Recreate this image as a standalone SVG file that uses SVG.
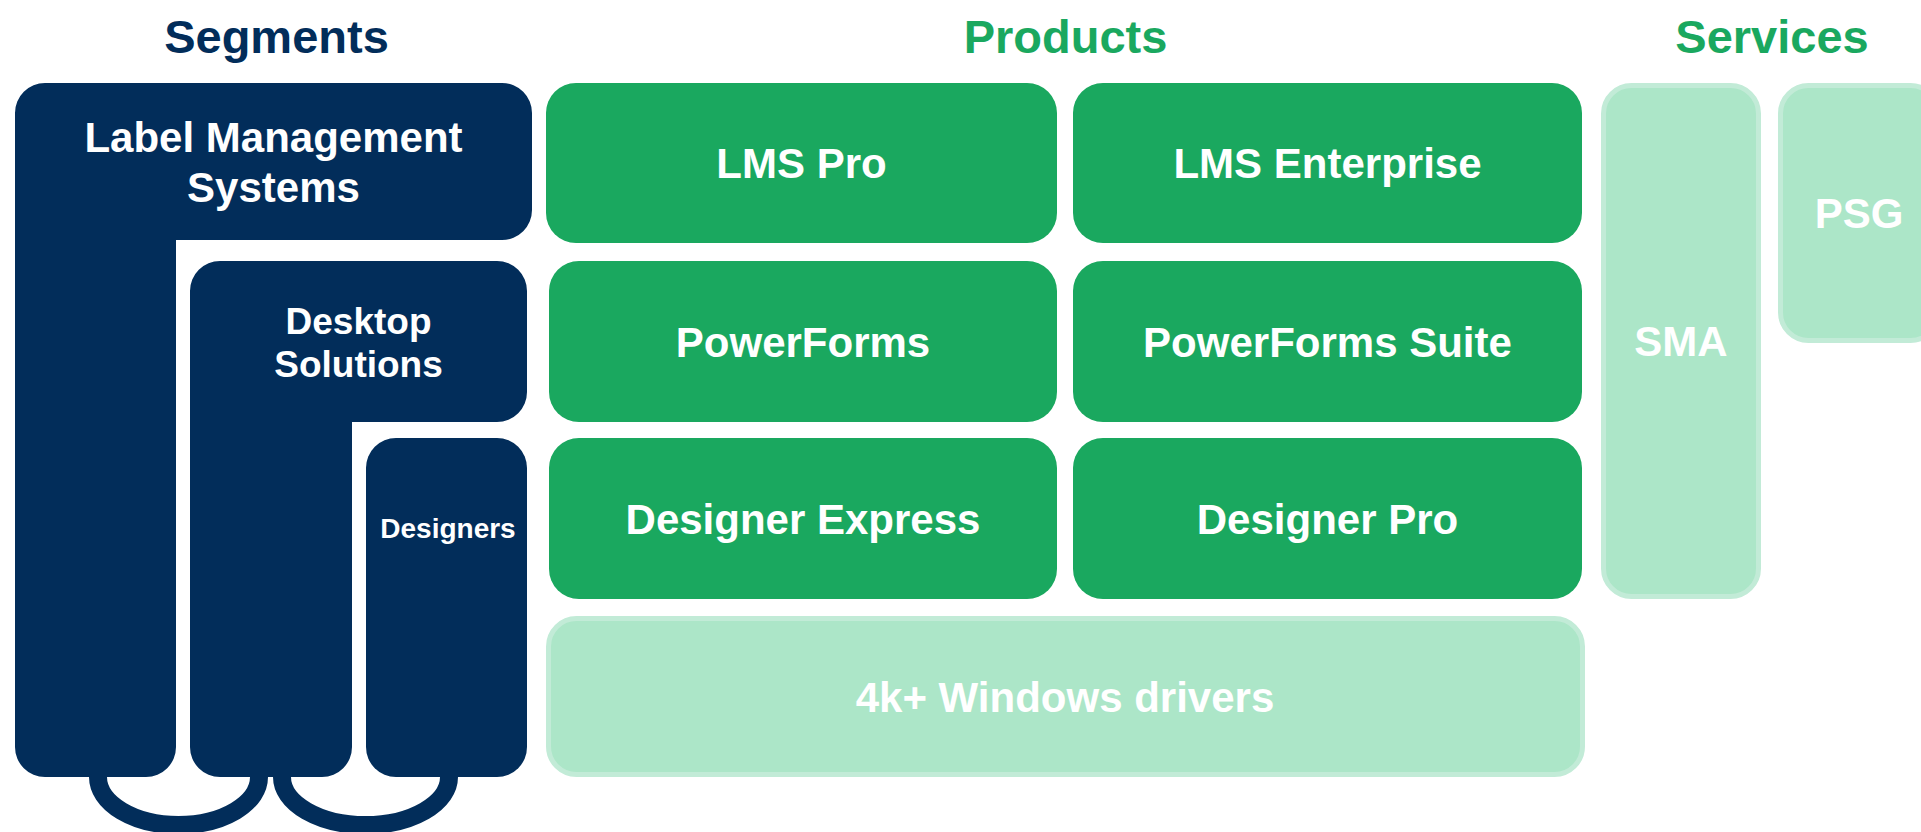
<svg xmlns="http://www.w3.org/2000/svg" width="1921" height="832" viewBox="0 0 1921 832">
<style>
  text { font-family: "Liberation Sans", Arial, sans-serif; font-weight: bold; text-anchor: middle; }
  .title-navy { fill: #022d5a; font-size: 47px; }
  .title-green { fill: #1aa85f; font-size: 47px; }
  .navy { fill: #022d5a; }
  .green { fill: #1aa85f; }
  .light { fill: #ace6c8; stroke: #c2ebd7; stroke-width: 5; }
  .lbl { fill: #ffffff; font-size: 42px; }
  .seg { fill: #ffffff; }
  .conn { fill: none; stroke: #022d5a; stroke-width: 18; }
</style>
<rect width="1921" height="832" fill="#ffffff"/>

<g id="titles">
  <text class="title-navy" x="276.5" y="53">Segments</text>
  <text class="title-green" x="1065.5" y="53">Products</text>
  <text class="title-green" x="1772" y="53">Services</text>
</g>

<g id="connectors">
  <path class="conn" d="M 98 770 V 777 A 80.5 48 0 0 0 259 777 V 770"/>
  <path class="conn" d="M 282 770 V 777 A 83.5 48 0 0 0 449 777 V 770"/>
</g>

<g id="lms-segment">
  <path class="navy" d="M 45 83 H 502 A 30 30 0 0 1 532 113 V 210 A 30 30 0 0 1 502 240 H 176 V 747 A 30 30 0 0 1 146 777 H 45 A 30 30 0 0 1 15 747 V 113 A 30 30 0 0 1 45 83 Z"/>
  <text class="seg" x="273.5" y="152" font-size="42">Label Management</text>
  <text class="seg" x="273.5" y="202" font-size="42">Systems</text>
</g>

<g id="desktop-segment">
  <path class="navy" d="M 220 261 H 497 A 30 30 0 0 1 527 291 V 392 A 30 30 0 0 1 497 422 H 352 V 747 A 30 30 0 0 1 322 777 H 220 A 30 30 0 0 1 190 747 V 291 A 30 30 0 0 1 220 261 Z"/>
  <text class="seg" x="358.5" y="334" font-size="37">Desktop</text>
  <text class="seg" x="358.5" y="377" font-size="37">Solutions</text>
</g>

<g id="designers-segment">
  <rect class="navy" x="366" y="438" width="161" height="339" rx="30" ry="30"/>
  <text class="seg" x="448" y="538" font-size="28">Designers</text>
</g>

<g id="lms-pro">
  <rect class="green" x="546" y="83" width="511" height="160" rx="30" ry="30"/>
  <text class="lbl" x="801.5" y="178">LMS Pro</text>
</g>
<g id="lms-enterprise">
  <rect class="green" x="1073" y="83" width="509" height="160" rx="30" ry="30"/>
  <text class="lbl" x="1327.5" y="178">LMS Enterprise</text>
</g>
<g id="powerforms">
  <rect class="green" x="549" y="261" width="508" height="161" rx="30" ry="30"/>
  <text class="lbl" x="803" y="357">PowerForms</text>
</g>
<g id="powerforms-suite">
  <rect class="green" x="1073" y="261" width="509" height="161" rx="30" ry="30"/>
  <text class="lbl" x="1327.5" y="357">PowerForms Suite</text>
</g>
<g id="designer-express">
  <rect class="green" x="549" y="438" width="508" height="161" rx="30" ry="30"/>
  <text class="lbl" x="803" y="534">Designer Express</text>
</g>
<g id="designer-pro">
  <rect class="green" x="1073" y="438" width="509" height="161" rx="30" ry="30"/>
  <text class="lbl" x="1327.5" y="534">Designer Pro</text>
</g>
<g id="windows-drivers">
  <rect class="light" x="548.5" y="618.5" width="1034" height="156" rx="28" ry="28"/>
  <text class="lbl" x="1065" y="712">4k+ Windows drivers</text>
</g>

<g id="sma">
  <rect class="light" x="1603.5" y="85.5" width="155" height="511" rx="28" ry="28"/>
  <text class="lbl" x="1681" y="356">SMA</text>
</g>
<g id="psg">
  <rect class="light" x="1780.5" y="85.5" width="158" height="255" rx="28" ry="28"/>
  <text class="lbl" x="1859" y="228">PSG</text>
</g>
</svg>
